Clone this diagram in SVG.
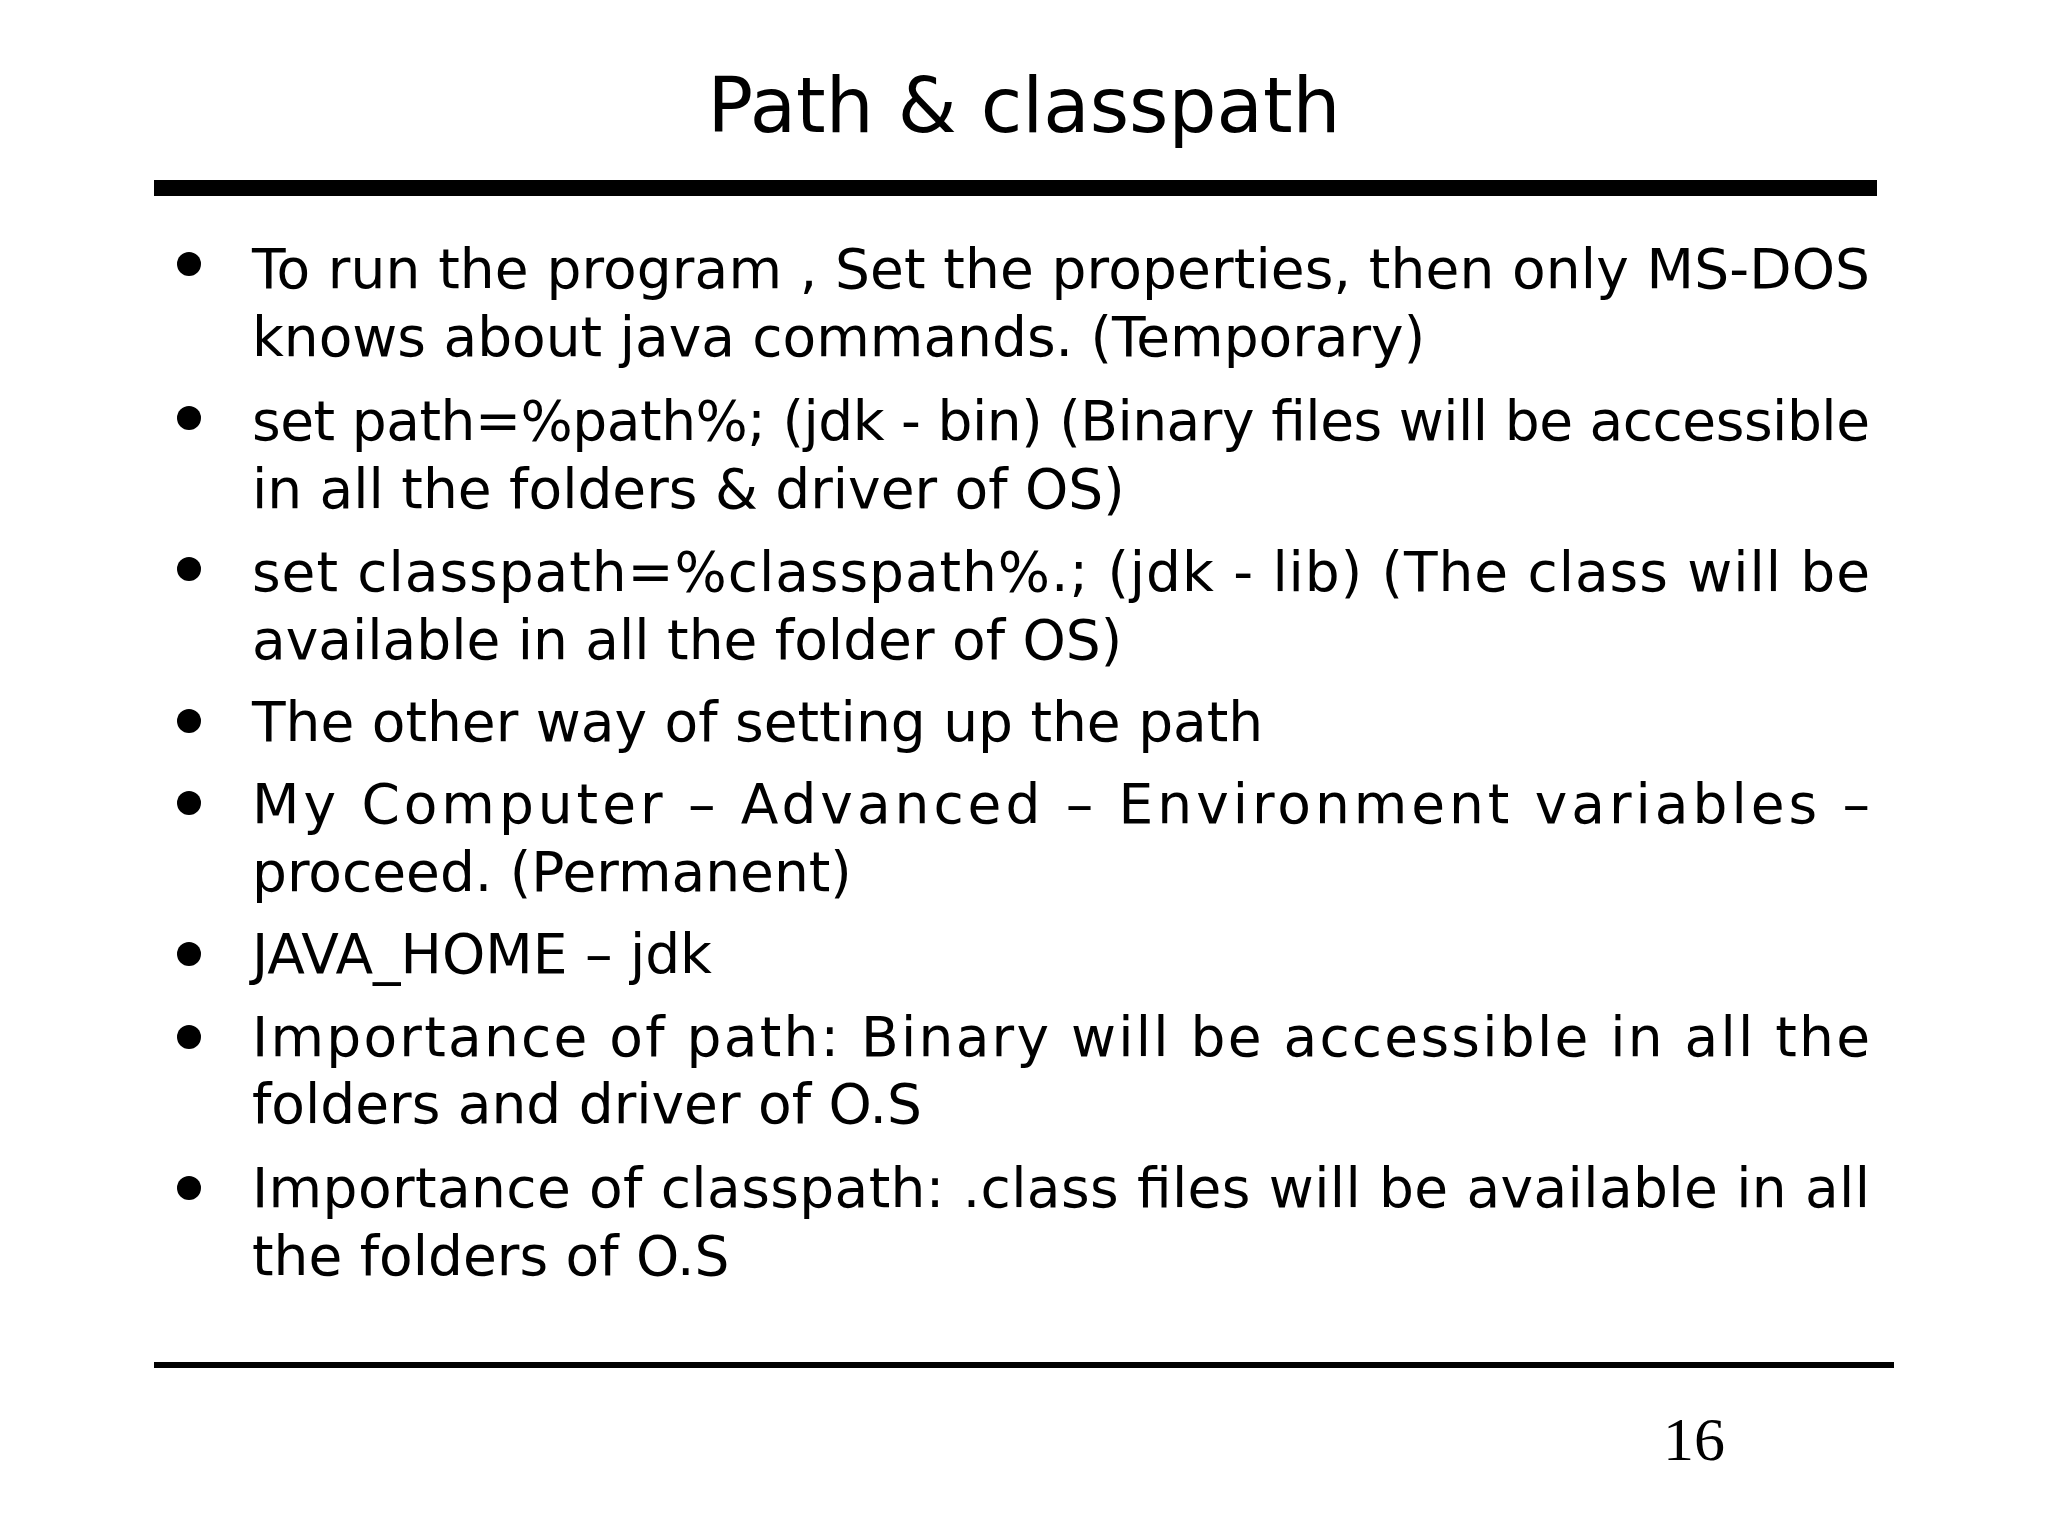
<svg xmlns="http://www.w3.org/2000/svg" width="2048" height="1536" viewBox="0 0 2048 1536">
<style>
.t{font-family:"DejaVu Sans","Noto Sans",sans-serif;font-size:55px;fill:#000}
.b{fill:#000}
</style>
<rect width="2048" height="1536" fill="#fff"/>
<text x="1024" y="132" text-anchor="middle" style="font-family:'DejaVu Sans',sans-serif;font-size:76px" textLength="633" lengthAdjust="spacingAndGlyphs">Path &amp; classpath</text>
<rect x="154" y="180" width="1723" height="16" fill="#000"/>
<g id="bullets">
<circle class="b" cx="189" cy="264" r="12"/>
<circle class="b" cx="189" cy="418" r="12"/>
<circle class="b" cx="189" cy="569" r="12"/>
<circle class="b" cx="189" cy="721" r="12"/>
<circle class="b" cx="189" cy="803" r="12"/>
<circle class="b" cx="189" cy="954" r="12"/>
<circle class="b" cx="189" cy="1037" r="12"/>
<circle class="b" cx="189" cy="1188" r="12"/>
</g>
<g id="text">
<text class="t" x="252" y="288" textLength="1618" lengthAdjust="spacing">To run the program , Set the properties, then only MS-DOS</text>
<text class="t" x="252" y="356">knows about java commands. (Temporary)</text>
<text class="t" x="252" y="440" textLength="1618" lengthAdjust="spacing">set path=%path%; (jdk - bin) (Binary files will be accessible</text>
<text class="t" x="252" y="508">in all the folders &amp; driver of OS)</text>
<text class="t" x="252" y="591" textLength="1618" lengthAdjust="spacing">set classpath=%classpath%.; (jdk - lib) (The class will be</text>
<text class="t" x="252" y="659">available in all the folder of OS)</text>
<text class="t" x="252" y="741">The other way of setting up the path</text>
<text class="t" x="252" y="823" textLength="1618" lengthAdjust="spacing">My Computer – Advanced – Environment variables –</text>
<text class="t" x="252" y="891">proceed. (Permanent)</text>
<text class="t" x="252" y="973">JAVA_HOME – jdk</text>
<text class="t" x="252" y="1056" textLength="1618" lengthAdjust="spacing">Importance of path: Binary will be accessible in all the</text>
<text class="t" x="252" y="1123">folders and driver of O.S</text>
<text class="t" x="252" y="1207" textLength="1618" lengthAdjust="spacing">Importance of classpath: .class files will be available in all</text>
<text class="t" x="252" y="1275">the folders of O.S</text>
</g>
<rect x="154" y="1362" width="1740" height="6" fill="#000"/>
<text x="1694" y="1460" text-anchor="middle" style="font-family:'Liberation Serif',serif;font-size:62px">16</text>
</svg>
